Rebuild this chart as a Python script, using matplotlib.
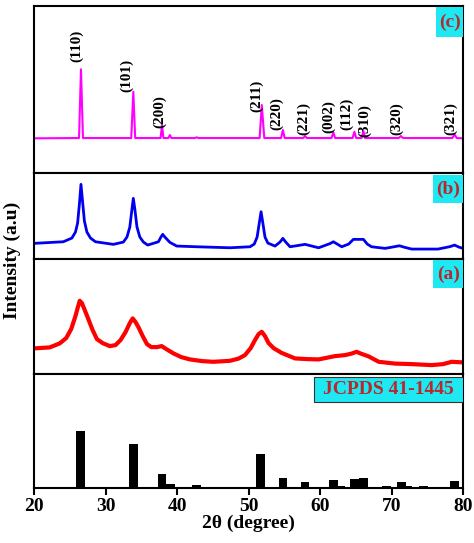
import matplotlib
matplotlib.use('Agg')
import matplotlib.pyplot as plt
from matplotlib.patches import Rectangle

plt.rcParams['font.family'] = ['Liberation Serif', 'DejaVu Serif']
plt.rcParams['font.weight'] = 'bold'

# (c) sharp pattern, intensity in a.u.
c_tt = [20, 26.3, 26.57, 26.85, 33.6, 33.89, 34.15, 37.7, 37.9, 38.1, 38.8, 39.0, 39.2,
        42.5, 42.75, 43.0, 51.55, 51.85, 52.2, 54.55, 54.8, 55.05, 57.65, 57.9, 58.15,
        61.6, 61.86, 62.1, 64.55, 64.8, 65.05, 65.8, 66.06, 66.3, 71.0, 71.3, 71.6,
        78.5, 78.8, 79.1, 80]
c_int = [34.7, 35, 103.7, 35, 35, 81.3, 35, 35, 48, 35, 35, 38, 35,
         35, 35.7, 35, 35, 68, 35, 35, 43, 35, 35, 37, 35,
         35, 40.7, 35, 35, 41.3, 35, 35, 42, 35, 35, 37, 35,
         35, 38.7, 35, 34.7]

# (b)
b_tt = [20, 24.1, 25.3, 25.8, 26.1, 26.35, 26.57, 26.8, 27.05, 27.4, 27.9, 28.6, 31.1,
        32.5, 33.0, 33.4, 33.7, 33.89, 34.1, 34.4, 34.8, 35.3, 35.9, 37.4, 37.75, 38.0,
        38.3, 39.0, 39.96, 42.75, 47.4, 50.2, 50.8, 51.2, 51.5, 51.75, 52.0, 52.3, 52.7,
        53.7, 54.4, 54.8, 55.2, 55.8, 57.9, 59.8, 61.4, 61.86, 62.4, 63.03, 64.0,
        64.66, 66.06, 66.6, 67.2, 69.1, 70.5, 71.1, 71.7, 72.8, 76.5, 78.2, 78.8, 79.4, 80]
b_int = [15.7, 17.3, 21, 27, 36, 55, 74.7, 57, 38, 27, 21, 17.3, 14.7,
         17, 22, 32, 50, 60.7, 50, 32, 22, 17, 14, 17.3, 22, 24.7,
         22, 16.7, 13, 12.3, 11.3, 12.3, 15, 22, 36, 47.3, 36, 22, 16,
         13, 17, 20.7, 17, 12.3, 14.7, 11.3, 15.5, 17.3, 15, 12.3, 15,
         19.7, 19.7, 15, 12.3, 10.7, 12.5, 13.3, 12, 10, 10, 12.5, 14, 12, 10.7]

# (a)
a_tt = [20, 22.2, 23.6, 24.5, 25.2, 25.8, 26.1, 26.4, 26.7, 27.1, 27.6, 28.2, 28.8,
        29.6, 30.6, 31.4, 32.1, 32.8, 33.4, 33.8, 34.2, 34.6, 35.2, 35.8, 36.4,
        37.2, 37.86, 38.5, 39.5, 40.6, 41.8, 43.5, 45.1, 47.4, 48.6, 49.5, 50.3,
        50.9, 51.4, 51.85, 52.3, 52.8, 53.5, 54.6, 56.5, 58.2, 59.8, 62.1, 63.5,
        64.4, 65.1, 65.7, 66.8, 68.2, 70.5, 72.8, 75.6, 77.2, 78.4, 80]
a_int = [25.7, 26.7, 30.7, 36, 45, 58, 66, 73.3, 71, 64, 55, 44, 35,
         31, 28, 29, 34, 42, 51, 55.7, 52, 47, 38, 30, 27,
         27, 28, 25, 20.7, 17, 14.7, 13, 12.3, 13.3, 15.5, 19, 26,
         34, 40, 42.3, 38, 31, 26, 21.3, 15.7, 15, 14.7, 18, 19,
         20.5, 22.3, 20.5, 17.7, 12.3, 10.5, 10, 9, 10, 12.3, 11.7]

# JCPDS 41-1445 reference lines
ref_tt = [26.5, 33.9, 37.9, 39.1, 42.7, 51.7, 54.8, 57.9, 61.9, 62.9, 64.85, 66.05,
          69.3, 71.4, 72.2, 74.5, 78.8]
ref_int = [100, 77, 25, 8, 5, 60, 18, 10, 15, 4, 16, 18, 4, 10, 4, 4, 13]

hkl = ['(110)', '(101)', '(200)', '(211)', '(220)', '(221)', '(002)', '(112)', '(310)', '(320)', '(321)']
hkl_tt = [25.97, 32.96, 37.6, 51.1, 53.9, 57.7, 61.2, 63.7, 66.2, 70.7, 78.3]
hkl_y = [111.3, 81.3, 45, 61.3, 43, 38, 40, 43, 36.3, 38, 38]

fig, axes = plt.subplots(4, 1, figsize=(4.74, 5.43), dpi=100, sharex=True,
                         gridspec_kw={'height_ratios': [167, 86, 115, 114], 'hspace': 0})
fig.subplots_adjust(left=0.0717, right=0.977, top=0.989, bottom=0.101)
ax_c, ax_b, ax_a, ax_r = axes

ax_c.plot(c_tt, c_int, color='#ff00ff', lw=1.5)
ax_c.set_ylim(0, 167)
for lab, x, y in zip(hkl, hkl_tt, hkl_y):
    ax_c.text(x, y, lab, rotation=90, ha='center', va='bottom', fontsize=11, fontweight='bold')

ax_b.plot(b_tt, b_int, color='#0000ee', lw=2, solid_joinstyle='round')
ax_b.set_ylim(0, 86)

ax_a.plot(a_tt, a_int, color='#ff0000', lw=3, solid_joinstyle='round')
ax_a.set_ylim(0, 115)

ax_r.bar(ref_tt, ref_int, width=1.2, color='black')
ax_r.set_ylim(0, 200)


def tag(ax, text, x0, y0, y1, edge='none'):
    ax.add_patch(Rectangle((x0, y0), 1 - x0, y1 - y0, transform=ax.transAxes,
                           facecolor='#1ee8f2', edgecolor=edge, lw=0.8, zorder=3))
    ax.text((x0 + 1) / 2, (y0 + y1) / 2, text, transform=ax.transAxes, ha='center',
            va='center', fontsize=14, fontweight='bold', color='#b8282d', zorder=4)


tag(ax_c, '(c)', 0.937, 0.814, 0.994)
tag(ax_b, '(b)', 0.930, 0.651, 0.977)
tag(ax_a, '(a)', 0.930, 0.748, 0.991)
tag(ax_r, 'JCPDS 41-1445', 0.653, 0.754, 0.974, edge='#333333')

for ax in axes:
    ax.set_xlim(20, 80)
    ax.set_yticks([])
    for s in ax.spines.values():
        s.set_linewidth(1.5)
    ax.tick_params(axis='x', length=0)

ax_r.set_xticks([20, 30, 40, 50, 60, 70, 80])
ax_r.tick_params(axis='x', length=5, width=1.5, direction='out', labelsize=14, pad=2)
ax_r.set_xlabel('2θ (degree)', fontsize=14, fontweight='bold', labelpad=0)
fig.text(0.025, 1 - 260 / 543, 'Intensity (a.u)', rotation=90, ha='center', va='center',
         fontsize=14, fontweight='bold')

plt.savefig('out.png', dpi=100)
